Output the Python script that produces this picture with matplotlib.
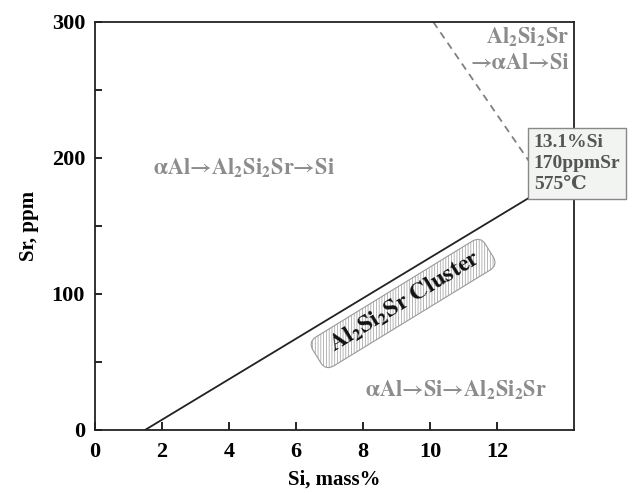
import matplotlib
matplotlib.use('Agg')
import matplotlib.pyplot as plt

# Data
solid_si = [1.5, 13.45]
solid_sr = [0, 178]
dash_si = [10.1, 13.45]
dash_sr = [300, 180]
x_ticks = [0, 2, 4, 6, 8, 10, 12]
y_ticks = [0, 100, 200, 300]
y_minor = [50, 150, 250]

plt.rcParams['font.family'] = ['Liberation Serif', 'DejaVu Serif']
plt.rcParams['font.weight'] = 'bold'
plt.rcParams['mathtext.default'] = 'regular'
plt.rcParams['hatch.linewidth'] = 0.5
plt.rcParams['hatch.color'] = '#b0b0b0'

fig = plt.figure(figsize=(6.36, 4.94), dpi=100)
ax = fig.add_axes([0.149, 0.1296, 0.7535, 0.826])

ax.plot(solid_si, solid_sr, color='#222222', lw=1.3)
ax.plot(dash_si, dash_sr, color='#808080', lw=1.3, ls=(0, (4, 3)))

ax.set_xlim(0, 14.3)
ax.set_ylim(0, 300)
ax.set_xticks(x_ticks)
ax.set_yticks(y_ticks)
ax.set_yticks(y_minor, minor=True)
ax.tick_params(axis='x', direction='in', length=6, width=1.2, labelsize=16, pad=9)
ax.tick_params(axis='y', which='both', direction='in', length=5, width=1.2, labelsize=16, pad=7)
for s in ax.spines.values():
    s.set_linewidth(1.3)
    s.set_color('#222222')

ax.set_xlabel('Si, mass%', fontsize=15, fontweight='bold', labelpad=5)
ax.set_ylabel('Sr, ppm', fontsize=15, fontweight='bold', labelpad=9)

# phase sequences (STIX has a Times-like bold face and a long arrow)
gray = '#8c8c8c'
stix = ['STIXGeneral', 'DejaVu Serif']
ax.text(4.45, 192.5, r'αAl→Al$_2$Si$_2$Sr→Si', color=gray, family=stix,
        fontsize=16, ha='center', va='center', fontweight='bold')
ax.text(13.5, 29, r'αAl→Si→Al$_2$Si$_2$Sr', color=gray, family=stix,
        fontsize=16, ha='right', va='center', fontweight='bold')
ax.text(14.15, 297, 'Al$_2$Si$_2$Sr\n→αAl→Si', color=gray, family=stix,
        fontsize=16, ha='right', va='top', fontweight='bold', linespacing=1.25)

ax.text(13.1, 196, '13.1%Si\n170ppmSr\n575℃', color='#555555', fontsize=14,
        ha='left', va='center', fontweight='bold', linespacing=1.3,
        bbox=dict(boxstyle='square,pad=0.3', fc='#f2f4f2', ec='#888888', lw=1.0),
        clip_on=False, zorder=5)

ax.text(9.2, 93, r'  Al$_2$Si$_2$Sr Cluster  ', color='#111111', fontsize=17.5,
        family=stix, ha='center', va='center', rotation=31.5,
        rotation_mode='anchor', fontweight='bold',
        bbox=dict(boxstyle='round,pad=0.22,rounding_size=0.4', fc='white',
                  ec='#999999', lw=0.8, hatch='|' * 6))

fig.savefig('out.png', dpi=100)
